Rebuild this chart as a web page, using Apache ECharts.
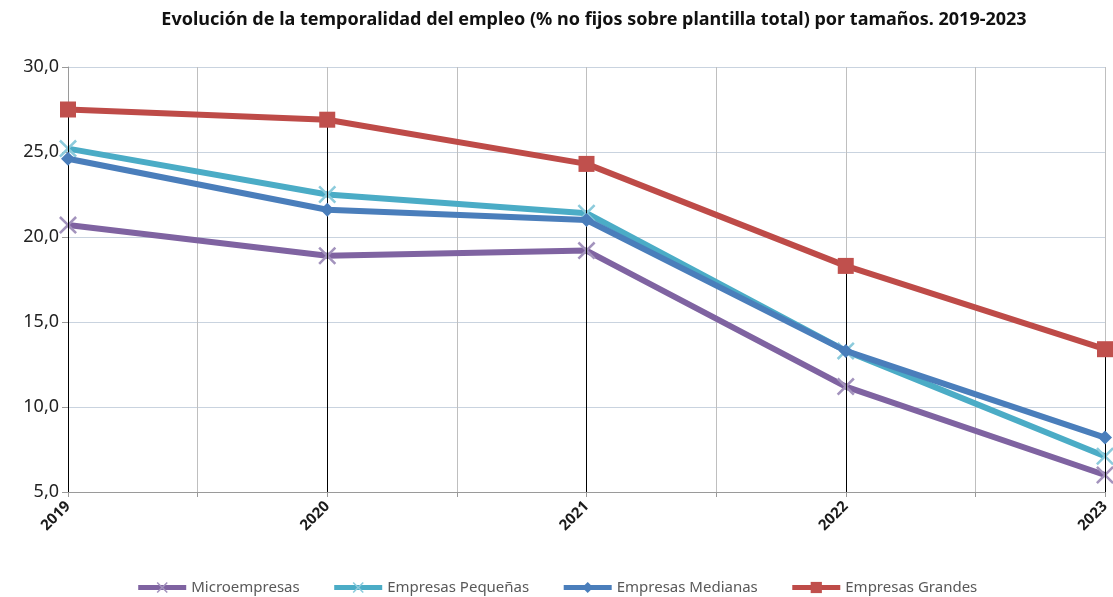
<!DOCTYPE html>
<html>
<head>
<meta charset="utf-8">
<script src="https://cdn.jsdelivr.net/npm/echarts@6/dist/echarts.min.js"></script>
<style>
  html, body { margin: 0; padding: 0; background: #fff; }
  #chart { width: 1113px; height: 597px; }
</style>
</head>
<body>
<div id="chart"></div>
<script>
var years = ['2019', '2020', '2021', '2022', '2023'];
var micro = [20.7, 18.9, 19.2, 11.2, 6.0];
var pequenas = [25.2, 22.5, 21.4, 13.3, 7.1];
var medianas = [24.6, 21.6, 21.0, 13.3, 8.2];
var grandes = [27.5, 26.9, 24.3, 18.3, 13.4];
var yTicks = [5, 30, 5]; // min, max, interval

var crossPath = 'path://M0,1L1,0L5,4L9,0L10,1L6,5L10,9L9,10L5,6L1,10L0,9L4,5Z';

var chart = echarts.init(document.getElementById('chart'), null, {renderer: 'canvas'});

var dropLines = years.map(function(y, i) {
    return [{coord: [i, grandes[i]]}, {coord: [i, yTicks[0]]}];
});

var option = {
    backgroundColor: '#fff',
    animation: false,
    textStyle: {fontFamily: 'Noto Sans'},
    title: {
        text: 'Evolución de la temporalidad del empleo (% no fijos sobre plantilla total) por tamaños. 2019-2023',
        left: 589,
        textAlign: 'center',
        top: 6,
        textStyle: {fontSize: 18, fontWeight: 'bold', color: '#111', fontFamily: 'Noto Sans'}
    },
    grid: {left: 68, right: 8, top: 67, bottom: 105},
    legend: {
        bottom: -3,
        left: 'center',
        itemWidth: 48,
        itemHeight: 14,
        itemGap: 32,
        lineStyle: {width: 5},
        textStyle: {fontSize: 15, color: '#595959'},
        data: ['Microempresas', 'Empresas Pequeñas', 'Empresas Medianas', 'Empresas Grandes']
    },
    xAxis: [{
        type: 'category',
        data: years,
        boundaryGap: false,
        axisLine: {lineStyle: {color: '#9a9a9a', width: 1}},
        axisTick: {show: false},
        axisLabel: {rotate: 45, fontSize: 15, fontWeight: 'bold', color: '#1a1a1a', margin: 12},
        splitLine: {show: false}
    }, {
        type: 'value',
        min: 0,
        max: 4,
        interval: 0.5,
        position: 'bottom',
        axisLine: {show: false},
        axisTick: {show: true, length: 5, lineStyle: {color: '#9a9a9a'}},
        axisLabel: {show: false},
        splitLine: {show: true, lineStyle: {color: '#bfbfbf', width: 1}}
    }],
    yAxis: {
        type: 'value',
        min: yTicks[0],
        max: yTicks[1],
        interval: yTicks[2],
        axisLine: {show: true, lineStyle: {color: '#9a9a9a'}},
        axisTick: {show: true, length: 6, lineStyle: {color: '#9a9a9a'}},
        axisLabel: {
            fontSize: 18, color: '#222', margin: 9,
            formatter: function(v) { return v.toFixed(1).replace('.', ','); }
        },
        splitLine: {lineStyle: {color: '#c9d3df', width: 1}}
    },
    series: [{
        name: 'Microempresas',
        type: 'line',
        data: micro,
        symbol: crossPath,
        symbolSize: 18,
        lineStyle: {color: '#7f63a1', width: 6},
        itemStyle: {color: '#a393bd'},
        z: 3
    }, {
        name: 'Empresas Pequeñas',
        type: 'line',
        data: pequenas,
        symbol: crossPath,
        symbolSize: 18,
        lineStyle: {color: '#4bacc6', width: 6},
        itemStyle: {color: '#8ccbdc'},
        z: 4
    }, {
        name: 'Empresas Medianas',
        type: 'line',
        data: medianas,
        symbol: 'diamond',
        symbolSize: 14,
        lineStyle: {color: '#4a7ebb', width: 6},
        itemStyle: {color: '#4a7ebb'},
        z: 5
    }, {
        name: 'Empresas Grandes',
        type: 'line',
        data: grandes,
        symbol: 'rect',
        symbolSize: 16,
        lineStyle: {color: '#be4b48', width: 6},
        itemStyle: {color: '#c0504d'},
        z: 6,
        markLine: {
            silent: true,
            symbol: 'none',
            label: {show: false},
            lineStyle: {color: '#000', width: 1, type: 'solid'},
            data: dropLines
        }
    }]
};
chart.setOption(option);
</script>
</body>
</html>
